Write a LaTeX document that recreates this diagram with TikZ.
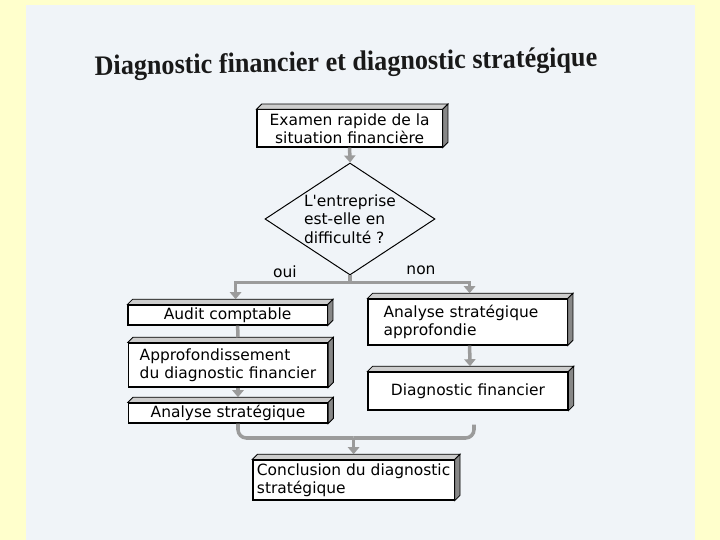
\documentclass[tikz,border=0pt]{standalone}
\usepackage{fontspec}
\setmainfont{Liberation Serif}
\newfontfamily\boxfont{DejaVu Sans}
\usetikzlibrary{shapes.geometric,arrows.meta}

\definecolor{pagebg}{RGB}{255,255,204}
\definecolor{sheet}{RGB}{240,244,248}
\definecolor{linkgray}{RGB}{155,155,155}
\definecolor{bevellight}{RGB}{205,205,205}
\definecolor{beveldark}{RGB}{135,135,135}

% raised edges of a box (top and right faces)
\newcommand{\bevel}[1]{%
  \filldraw[draw=black, line width=0.6pt, fill=bevellight] (#1.north west) -- ++(0.13,0.13) -- ([shift={(0.13,0.13)}]#1.north east) -- (#1.north east) -- cycle;
  \filldraw[draw=black, line width=0.6pt, fill=beveldark] (#1.north east) -- ++(0.13,0.13) -- ([shift={(0.13,0.13)}]#1.south east) -- (#1.south east) -- cycle;
}

\begin{document}
\begin{tikzpicture}[
        stepbox/.style={rectangle, draw=black, fill=white, line width=0.8pt, minimum width=4.98cm, inner xsep=0.14cm, inner ysep=1pt, font=\boxfont\fontsize{11}{13}\selectfont},
        decision/.style={diamond, draw=black, line width=0.7pt, fill=sheet, aspect=1.5, inner sep=-1pt, align=left, font=\boxfont\fontsize{11}{13}\selectfont},
        tag/.style={font=\boxfont\fontsize{11}{13}\selectfont, inner sep=1pt},
        title/.style={font=\bfseries\fontsize{20}{24}\selectfont, text=black!90},
        link/.style={line width=2.5pt, color=linkgray},
        arrow/.style={-{Triangle[width=8pt,length=5pt]}, line width=2.5pt, color=linkgray}
    ]
        % Page
        \fill[pagebg] (0,0) rectangle (18,13.5);
        \fill[sheet] (0.65,0) rectangle (17.375,13.375);
        \useasboundingbox (0,0) rectangle (18,13.5);

        % Title
        \node[title, rotate=1] (title) at (8.65,11.9) {\scalebox{0.93}[1]{Diagnostic financier et diagnostic stratégique}};

        % First check
        \node[stepbox, minimum width=4.63cm, minimum height=0.93cm, align=center] (examen) at (8.74,10.29) {Examen rapide de la\\situation financière};
        \node[decision, minimum width=4.25cm, minimum height=2.8cm] (question) at (8.75,8.025) {L'entreprise\\est-elle en\\difficulté ?};

        \node[tag] (oui) at (7.125,6.7) {oui};
        \node[tag] (non) at (10.525,6.75) {non};

        % Left branch
        \node[stepbox, minimum height=0.5cm] (audit) at (5.69,5.625) {Audit comptable};
        \node[stepbox, minimum height=1.1cm, align=left] (approf) at (5.7,4.375) {Approfondissement\\du diagnostic financier};
        \node[stepbox, minimum height=0.5cm] (analyse_l) at (5.7,3.175) {Analyse stratégique};

        % Right branch
        \node[stepbox, minimum height=1.15cm, text width=4.2cm, inner xsep=0.39cm, align=left] (analyse_r) at (11.69,5.45) {Analyse stratégique\\approfondie};
        \node[stepbox, minimum width=5.0cm, minimum height=0.95cm] (diagfin) at (11.7,3.725) {Diagnostic financier};

        % Conclusion
        \node[stepbox, minimum width=4.93cm, minimum height=1.0cm, inner xsep=0.1cm, align=left] (concl) at (8.84,1.5) {Conclusion du diagnostic\\stratégique};

        \foreach \b in {examen, audit, approf, analyse_l, analyse_r, diagfin, concl}
            \bevel{\b};

        % Connections
        \draw[arrow] (examen.south) -- (question.north);

        \draw[link] (question.south) -- ++(0,-0.17) coordinate (split);
        \draw[arrow] (split) -| ([xshift=0.2cm, yshift=0.13cm]audit.north);
        \draw[arrow] (split) -| ([xshift=0.05cm, yshift=0.13cm]analyse_r.north);

        \draw[link] ([xshift=0.25cm]audit.south) -- ([xshift=0.25cm, yshift=0.13cm]approf.north);
        \draw[arrow] ([xshift=0.25cm]approf.south) -- ([xshift=0.25cm, yshift=0.13cm]analyse_l.north);
        \draw[arrow] ([xshift=0.05cm]analyse_r.south) -- ([xshift=0.05cm, yshift=0.13cm]diagfin.north);

        \coordinate (merge) at (8.84,2.55);
        \draw[link, rounded corners=6pt] ([xshift=0.25cm]analyse_l.south) |- (merge);
        \draw[link, rounded corners=6pt] ([xshift=0.15cm, yshift=-0.35cm]diagfin.south) |- (merge);
        \draw[arrow] (merge) -- ([yshift=0.13cm]concl.north);
    \end{tikzpicture}
\end{document}
